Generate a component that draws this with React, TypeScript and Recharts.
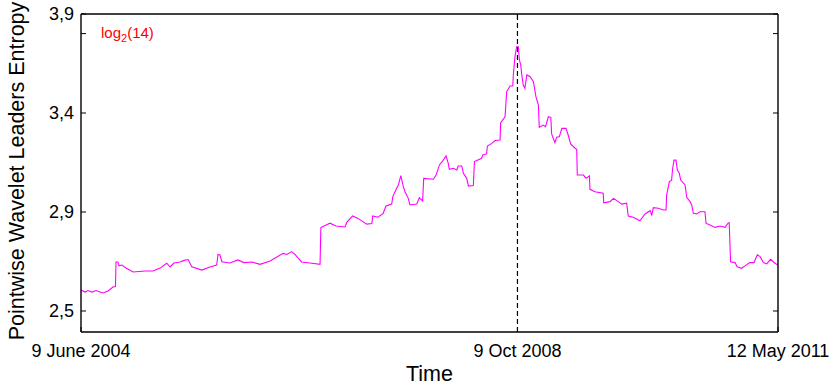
import React from 'react';
import { LineChart, Line, XAxis, YAxis, ReferenceLine, Label } from 'recharts';

// Day offsets from 9 June 2004
const DAYS = [0,15,25,40,54,69,80,98,116,125,127,134,138,149,163,189,232,261,287,311,323,337,359,374,388,402,438,468,492,497,504,511,540,569,591,620,649,686,733,747,764,776,787,800,831,867,870,903,925,958,964,985,1005,1036,1055,1058,1077,1096,1106,1127,1131,1145,1151,1160,1169,1175,1187,1193,1218,1227,1239,1243,1278,1288,1300,1312,1324,1332,1336,1350,1363,1368,1381,1387,1399,1405,1423,1427,1453,1457,1471,1474,1490,1502,1520,1522,1538,1544,1556,1566,1568,1574,1580,1586,1590,1595,1598,1604,1610,1617,1629,1641,1650,1659,1662,1677,1685,1695,1704,1707,1719,1725,1735,1744,1759,1767,1776,1792,1798,1800,1822,1832,1844,1846,1864,1894,1896,1919,1931,1949,1961,1979,1985,2003,2027,2046,2064,2070,2076,2094,2112,2122,2124,2134,2142,2146,2151,2158,2163,2170,2175,2191,2197,2209,2215,2221,2233,2245,2263,2267,2281,2300,2318,2336,2348,2351,2356,2372,2380,2396,2408,2426,2441,2453,2463,2475,2487,2501,2517,2528];

const ENTROPY = [2.595,2.586,2.593,2.586,2.593,2.586,2.582,2.591,2.609,2.611,2.723,2.723,2.705,2.709,2.695,2.677,2.682,2.682,2.695,2.717,2.700,2.718,2.723,2.730,2.734,2.701,2.686,2.700,2.709,2.757,2.755,2.724,2.718,2.732,2.720,2.723,2.712,2.727,2.762,2.757,2.770,2.757,2.741,2.723,2.718,2.712,2.879,2.899,2.886,2.882,2.903,2.932,2.921,2.895,2.898,2.932,2.926,2.944,2.977,2.986,3.020,3.058,3.073,3.115,3.065,3.042,3.012,2.982,2.986,3.015,3.000,3.103,3.099,3.118,3.164,3.182,3.205,3.171,3.144,3.149,3.141,3.159,3.159,3.126,3.103,3.068,3.070,3.179,3.194,3.209,3.214,3.250,3.262,3.275,3.277,3.356,3.383,3.497,3.523,3.523,3.573,3.656,3.701,3.701,3.641,3.618,3.580,3.527,3.512,3.573,3.565,3.542,3.474,3.436,3.335,3.345,3.338,3.383,3.380,3.305,3.265,3.290,3.292,3.330,3.330,3.300,3.259,3.240,3.235,3.118,3.118,3.103,3.114,3.053,3.042,3.035,2.992,2.997,3.012,2.997,2.986,2.990,2.932,2.926,2.910,2.941,2.956,2.936,2.970,2.967,2.959,2.959,3.027,3.088,3.095,3.149,3.186,3.186,3.141,3.126,3.095,3.073,3.017,2.997,2.982,2.944,2.941,2.951,2.951,2.899,2.891,2.880,2.886,2.880,2.901,2.901,2.724,2.720,2.701,2.694,2.705,2.720,2.720,2.755,2.747,2.720,2.714,2.735,2.717,2.709];

const X_TICK_VALUES = [0, 1583, 2528];
const X_TICK_LABELS = ['9 June 2004', '9 Oct 2008', '12 May 2011'];
const EVENT_DAY = 1583;

const LOG2_14_LEVEL = 3.761;
const Y_TICK_VALUES = [2.5, 2.95, 3.4, LOG2_14_LEVEL, 3.85];
const Y_TICK_LABELS = ['2,5', '2,9', '3,4', '', '3,9'];
const Y_DOMAIN = [2.4045, 3.85];
const X_DOMAIN = [0, 2528];

const data = DAYS.map((d, i) => ({ day: d, entropy: ENTROPY[i] }));

const FONT = '"Liberation Sans", Arial, Helvetica, sans-serif';
const TICK_LEN = 5;

function LeftTick(props: any) {
  const { x, y, payload } = props;
  const i = Y_TICK_VALUES.indexOf(payload.value);
  const label = i >= 0 ? Y_TICK_LABELS[i] : '';
  return (
    <g>
      <line x1={x} x2={x + TICK_LEN} y1={y} y2={y} stroke="#000" strokeWidth={1} />
      {label ? (
        <text x={x - 7} y={y} dy="0.36em" textAnchor="end" fontSize={18} fill="#000" fontFamily={FONT}>
          {label}
        </text>
      ) : null}
    </g>
  );
}

function RightTick(props: any) {
  const { x, y } = props;
  return <line x1={x - TICK_LEN} x2={x} y1={y} y2={y} stroke="#000" strokeWidth={1} />;
}

function BottomTick(props: any) {
  const { x, y, payload } = props;
  const i = X_TICK_VALUES.indexOf(payload.value);
  const label = i >= 0 ? X_TICK_LABELS[i] : '';
  return (
    <g>
      <line x1={x} x2={x} y1={y - TICK_LEN} y2={y} stroke="#000" strokeWidth={1} />
      <text x={x} y={y + 25} textAnchor="middle" fontSize={18} fill="#000" fontFamily={FONT}>
        {label}
      </text>
    </g>
  );
}

function TopTick(props: any) {
  const { x, y } = props;
  return <line x1={x} x2={x} y1={y} y2={y + TICK_LEN} stroke="#000" strokeWidth={1} />;
}

function YTitle(p: any) {
  const vb = p.viewBox || { x: 0, y: 14, width: 81, height: 318 };
  const cx = vb.x + 24;
  const cy = vb.y + vb.height / 2 - 2;
  return (
    <text
      transform={`rotate(-90, ${cx}, ${cy})`}
      x={cx}
      y={cy}
      textAnchor="middle"
      fontSize={21.5}
      fill="#000"
      fontFamily={FONT}
    >
      Pointwise Wavelet Leaders Entropy
    </text>
  );
}

function XTitle(p: any) {
  const vb = p.viewBox || { x: 81, y: 332, width: 697, height: 53 };
  return (
    <text x={vb.x + vb.width / 2} y={vb.y + 49} textAnchor="middle" fontSize={21.5} fill="#000" fontFamily={FONT}>
      Time
    </text>
  );
}

function LogLabel(p: any) {
  const vb = p.viewBox || { x: 81, y: 33 };
  return (
    <text x={vb.x + 20} y={vb.y + 4} fontSize={15} fill="#ff0000" fontFamily={FONT}>
      log
      <tspan fontSize={11} dy={4}>2</tspan>
      <tspan dy={-4}>(14)</tspan>
    </text>
  );
}

export default function App() {
  return (
    <div style={{ position: 'absolute', left: 0, top: 0, width: 833, height: 385, background: '#fff' }}>
      <LineChart
        width={833}
        height={385}
        data={data}
        margin={{ top: 13, right: 54, bottom: 0, left: 0 }}
        style={{ fontFamily: FONT }}
      >
        <XAxis
          dataKey="day"
          type="number"
          domain={X_DOMAIN}
          ticks={X_TICK_VALUES}
          interval={0}
          allowDataOverflow
          height={53}
          tickSize={0}
          tickMargin={0}
          tickLine={false}
          axisLine={{ stroke: '#000', strokeWidth: 1.4 }}
          tick={<BottomTick />}
        >
          <Label content={<XTitle />} />
        </XAxis>
        <XAxis
          xAxisId="top"
          orientation="top"
          dataKey="day"
          type="number"
          domain={X_DOMAIN}
          ticks={[EVENT_DAY]}
          interval={0}
          allowDataOverflow
          height={1}
          tickSize={0}
          tickMargin={0}
          tickLine={false}
          axisLine={{ stroke: '#000', strokeWidth: 1.4 }}
          tick={<TopTick />}
        />
        <YAxis
          type="number"
          domain={Y_DOMAIN}
          ticks={Y_TICK_VALUES}
          interval={0}
          allowDataOverflow
          width={81}
          tickSize={0}
          tickMargin={0}
          tickLine={false}
          axisLine={{ stroke: '#000', strokeWidth: 1.4 }}
          tick={<LeftTick />}
        >
          <Label content={<YTitle />} />
        </YAxis>
        <YAxis
          yAxisId="right"
          orientation="right"
          type="number"
          domain={Y_DOMAIN}
          ticks={Y_TICK_VALUES}
          interval={0}
          allowDataOverflow
          width={1}
          tickSize={0}
          tickMargin={0}
          tickLine={false}
          axisLine={{ stroke: '#000', strokeWidth: 1.4 }}
          tick={<RightTick />}
        />
        <ReferenceLine x={EVENT_DAY} stroke="#000" strokeWidth={1.2} strokeDasharray="5 3" />
        <ReferenceLine y={LOG2_14_LEVEL} stroke="none" label={<LogLabel />} />
        <Line
          type="linear"
          dataKey="entropy"
          stroke="#ff00ff"
          strokeWidth={1.1}
          dot={false}
          activeDot={false}
          isAnimationActive={false}
        />
      </LineChart>
    </div>
  );
}
